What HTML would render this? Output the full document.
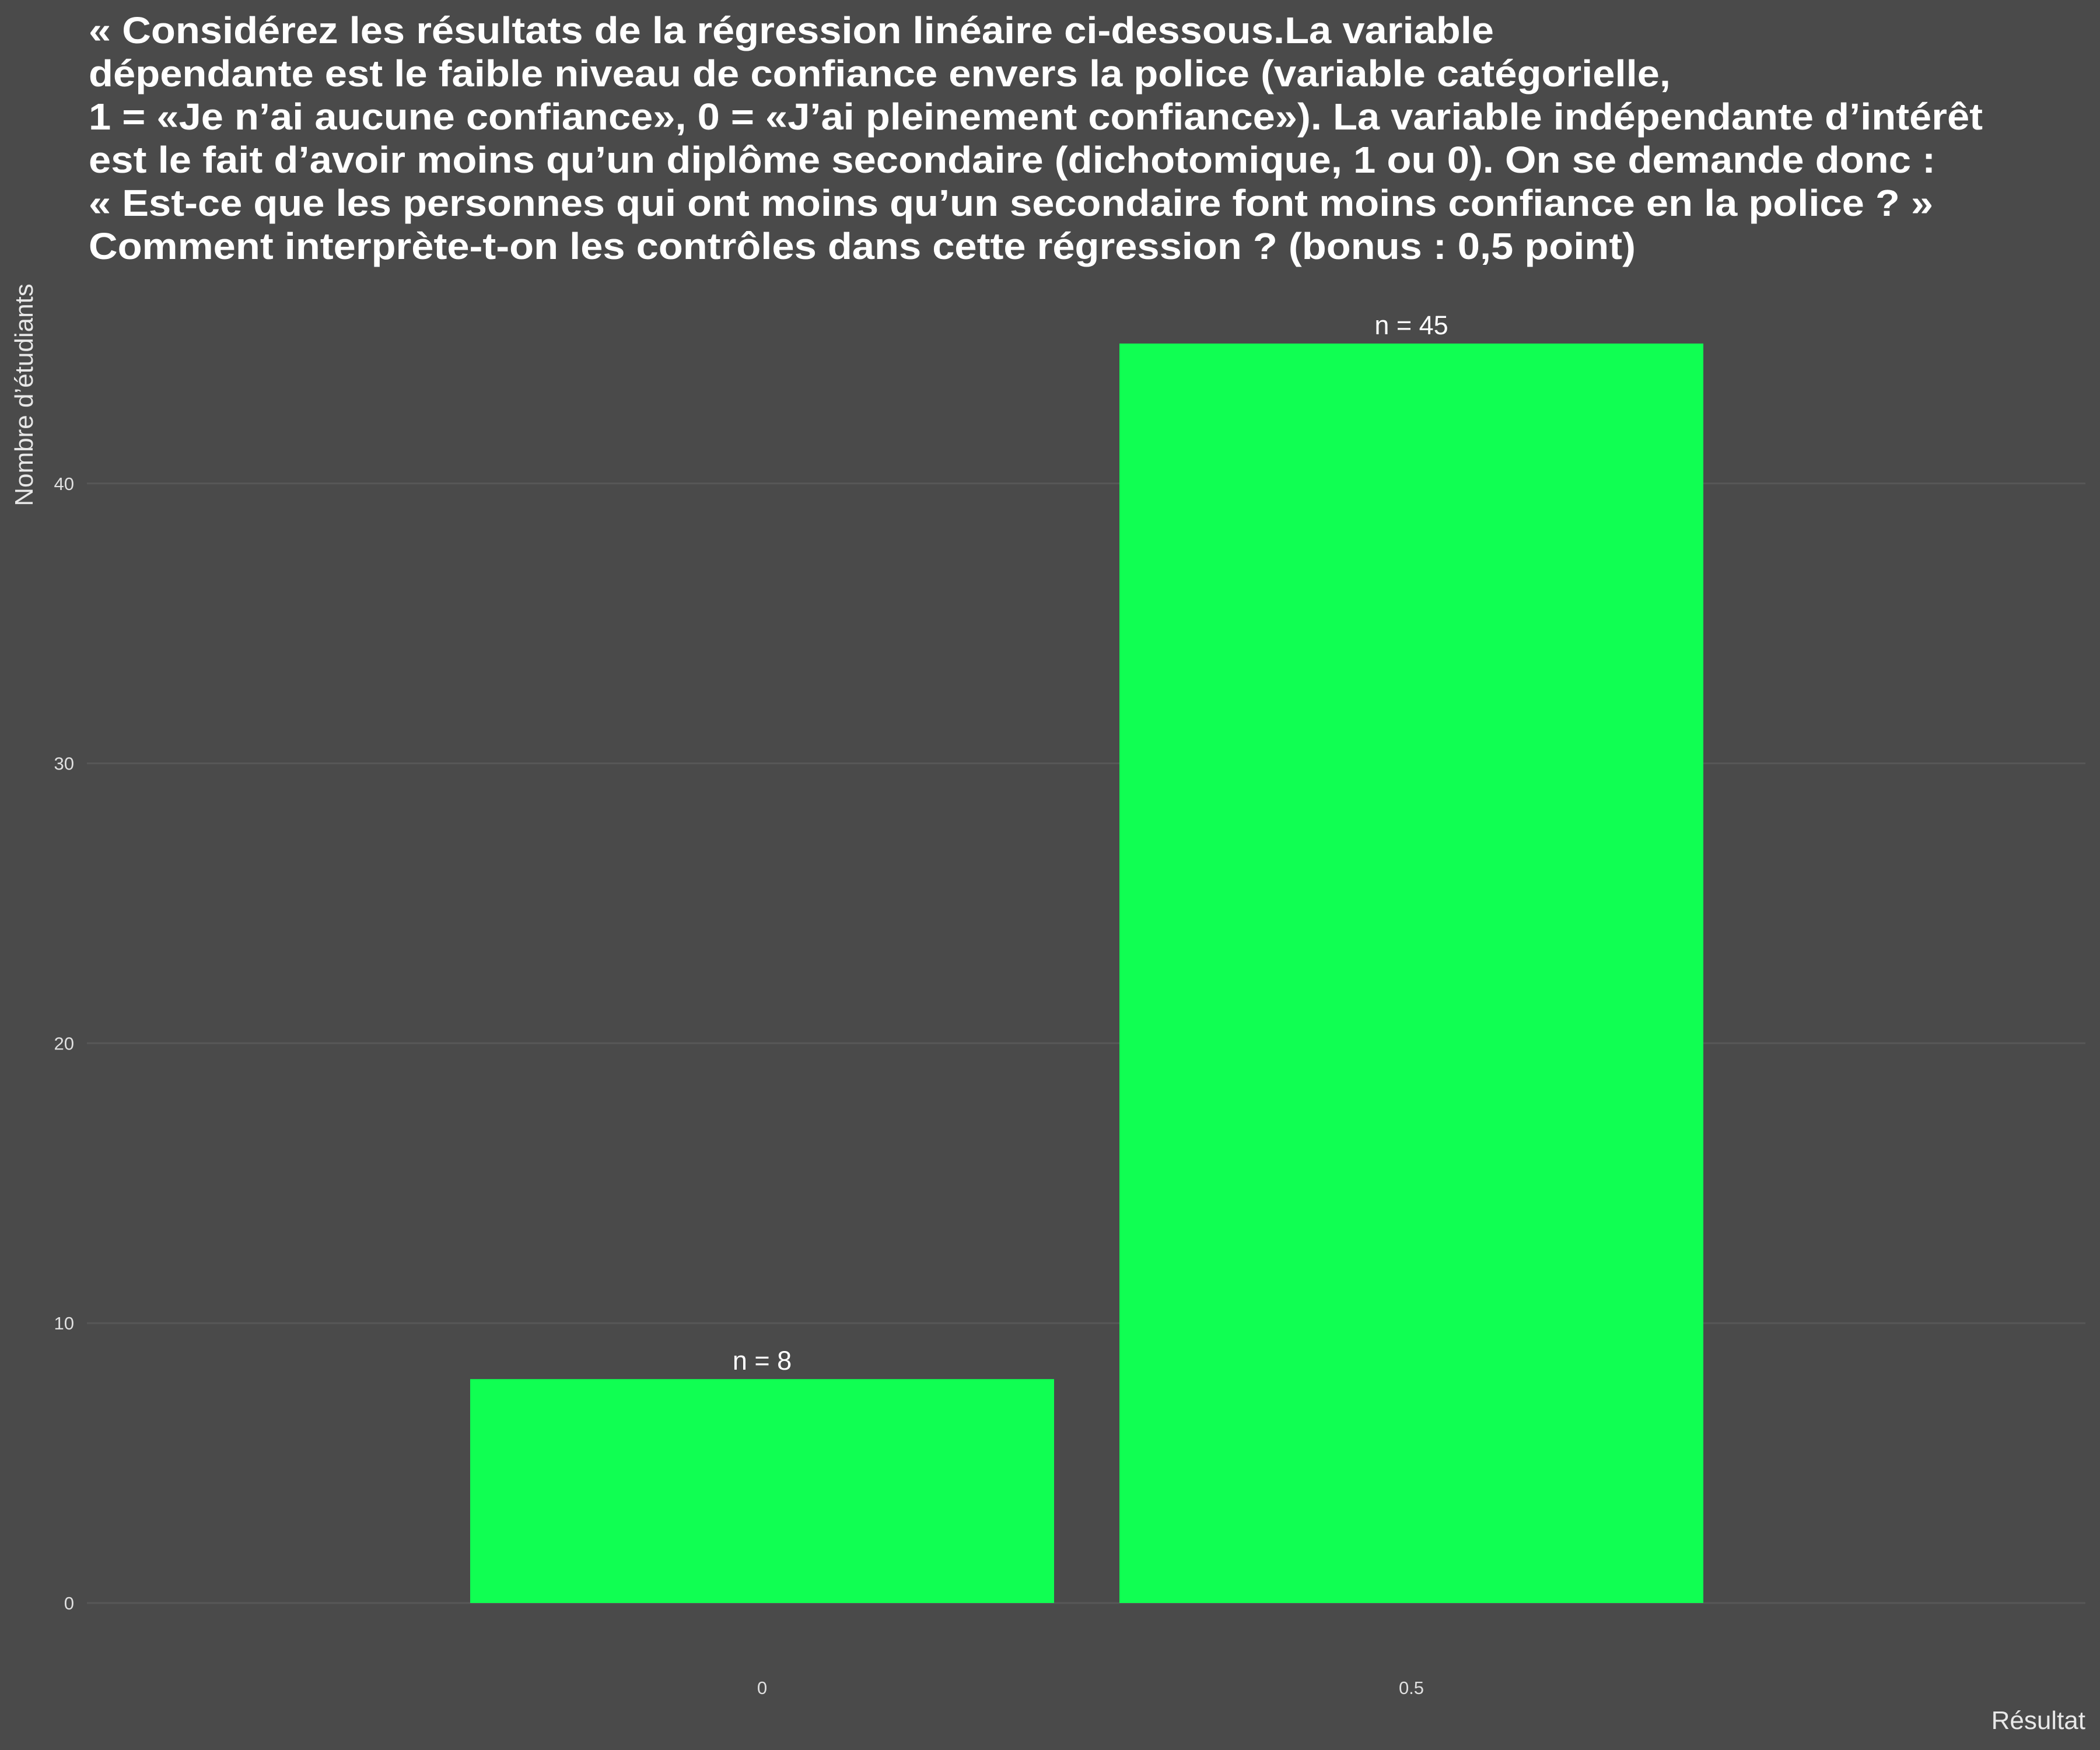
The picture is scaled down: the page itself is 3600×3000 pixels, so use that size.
<!DOCTYPE html>
<html><head><meta charset="utf-8">
<style>
html,body{margin:0;padding:0;background:#4a4a4a;}
svg{display:block;font-family:"Liberation Sans",sans-serif;}
</style></head>
<body>
<svg id="chart" width="3600" height="3000" viewBox="0 0 3600 3000" xmlns="http://www.w3.org/2000/svg">
<rect x="0" y="0" width="3600" height="3000" fill="#4a4a4a"/>
<g fill="#ffffff" font-weight="bold" font-size="64">
<text x="152" y="74" textLength="2409" lengthAdjust="spacingAndGlyphs">« Considérez les résultats de la régression linéaire ci-dessous.La variable</text>
<text x="152" y="148" textLength="2712" lengthAdjust="spacingAndGlyphs">dépendante est le faible niveau de confiance envers la police (variable catégorielle,</text>
<text x="152" y="222" textLength="3247" lengthAdjust="spacingAndGlyphs">1 = «Je n’ai aucune confiance», 0 = «J’ai pleinement confiance»). La variable indépendante d’intérêt</text>
<text x="152" y="296" textLength="3166" lengthAdjust="spacingAndGlyphs">est le fait d’avoir moins qu’un diplôme secondaire (dichotomique, 1 ou 0). On se demande donc :</text>
<text x="152" y="370" textLength="3162" lengthAdjust="spacingAndGlyphs">« Est-ce que les personnes qui ont moins qu’un secondaire font moins confiance en la police ? »</text>
<text x="152" y="444" textLength="2652" lengthAdjust="spacingAndGlyphs">Comment interprète-t-on les contrôles dans cette régression ? (bonus : 0,5 point)</text>
</g>
<text x="0" y="0" transform="translate(56,677) rotate(-90)" text-anchor="middle" fill="#e8e8e8" font-size="44">Nombre d’étudiants</text>
<text x="3575" y="2964" text-anchor="end" fill="#e8e8e8" font-size="44">Résultat</text>
<g id="grid"></g>
<g id="bars"></g>
</svg>
<script>
const categories = ["0", "0.5"];
const counts = [8, 45];
const yTicks = [0, 10, 20, 30, 40];

const plotLeft = 149, plotRight = 3575;
const y0 = 2748, unit = 47.98;
function yScale(v){ return y0 - v*unit; }
const bandStart = 806, bandStep = 1113, barW = 1001;
function xCenter(i){ return bandStart + barW/2 + i*bandStep; }

const NS = "http://www.w3.org/2000/svg";
const grid = document.getElementById('grid');
const bars = document.getElementById('bars');

yTicks.forEach(t => {
  const ln = document.createElementNS(NS,'line');
  
  
  ln.setAttribute('x1', plotLeft); ln.setAttribute('x2', plotRight);
  ln.setAttribute('y1', yScale(t)); ln.setAttribute('y2', yScale(t));
  ln.setAttribute('stroke', '#575757'); ln.setAttribute('stroke-width', '3');
  grid.appendChild(ln);
  const tx = document.createElementNS(NS,'text');
  
  
  tx.setAttribute('x', 127); tx.setAttribute('y', yScale(t) + 11);
  tx.setAttribute('text-anchor', 'end'); tx.setAttribute('fill', '#e0e0e0');
  tx.setAttribute('font-size', '31');
  tx.textContent = t;
  grid.appendChild(tx);
});

categories.forEach((c, i) => {
  const cx = xCenter(i);
  const r = document.createElementNS(NS,'rect');
  
  
  r.setAttribute('x', cx - barW/2); r.setAttribute('width', barW);
  r.setAttribute('y', yScale(counts[i])); r.setAttribute('height', y0 - yScale(counts[i]));
  r.setAttribute('fill', '#10ff52');
  bars.appendChild(r);
  const lbl = document.createElementNS(NS,'text');
  
  
  lbl.setAttribute('x', cx); lbl.setAttribute('y', yScale(counts[i]) - 16);
  lbl.setAttribute('text-anchor', 'middle'); lbl.setAttribute('fill', '#ffffff');
  lbl.setAttribute('font-size', '45');
  lbl.textContent = 'n = ' + counts[i];
  bars.appendChild(lbl);
  const xt = document.createElementNS(NS,'text');
  
  
  xt.setAttribute('x', cx); xt.setAttribute('y', 2904);
  xt.setAttribute('text-anchor', 'middle'); xt.setAttribute('fill', '#e0e0e0');
  xt.setAttribute('font-size', '31');
  xt.textContent = c;
  bars.appendChild(xt);
});
</script>
</body></html>
